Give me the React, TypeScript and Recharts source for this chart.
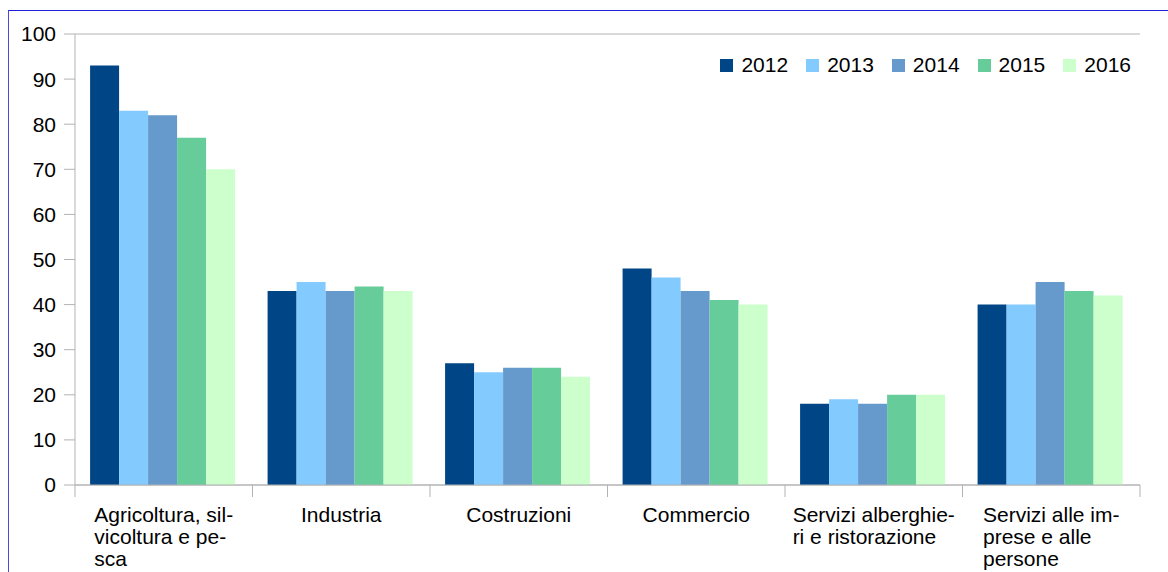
import { BarChart, Bar, XAxis, YAxis, CartesianGrid } from 'recharts'

const categories = [
    'Agricoltura, silvicoltura e pesca',
    'Industria',
    'Costruzioni',
    'Commercio',
    'Servizi alberghieri e ristorazione',
    'Servizi alle imprese e alle persone',
]

const categoryLines = [
    ['Agricoltura, sil-', 'vicoltura e pe-', 'sca'],
    ['Industria'],
    ['Costruzioni'],
    ['Commercio'],
    ['Servizi alberghie-', 'ri e ristorazione'],
    ['Servizi alle im-', 'prese e alle', 'persone'],
]

const years = ['2012', '2013', '2014', '2015', '2016']
const yearColors = ['#004586', '#83caff', '#6699cc', '#66cc99', '#ccffcc']

const values2012 = [93, 43, 27, 48, 18, 40]
const values2013 = [83, 45, 25, 46, 19, 40]
const values2014 = [82, 43, 26, 43, 18, 45]
const values2015 = [77, 44, 26, 41, 20, 43]
const values2016 = [70, 43, 24, 40, 20, 42]

const yTicks = [0, 10, 20, 30, 40, 50, 60, 70, 80, 90, 100]

const seriesValues = [values2012, values2013, values2014, values2015, values2016]

const data = categories.map((name, i) => {
    const row: Record<string, string | number> = { name, idx: i }
    years.forEach((y, s) => {
        row[y] = seriesValues[s][i]
    })
    return row
})

const FONT = "'Liberation Sans', Arial, sans-serif"
const FONT_SIZE = 21
const GRID = '#b3b3b3'

const CHART_W = 1168
const CHART_H = 572
const MARGIN = { top: 34, right: 28, left: 0, bottom: 0 }
const Y_AXIS_W = 75
const PLOT_W = CHART_W - MARGIN.left - MARGIN.right - Y_AXIS_W
const BAND = PLOT_W / categories.length

let measureCtx: CanvasRenderingContext2D | null = null
function textWidth(s: string) {
    if (!measureCtx) {
        measureCtx = document.createElement('canvas').getContext('2d')
    }
    if (!measureCtx) return s.length * FONT_SIZE * 0.5
    measureCtx.font = `${FONT_SIZE}px ${FONT}`
    return measureCtx.measureText(s).width
}

function CategoryTick(props: any) {
    const { x, y, payload, index } = props
    const lines = categoryLines[index] ?? [String(payload.value)]
    const maxW = Math.max(...lines.map(textWidth))
    const left = x - BAND / 2
    const right = x + BAND / 2
    return (
        <g>
            <line x1={left} x2={left} y1={y} y2={y + 12} stroke={GRID} strokeWidth={1} />
            {index === categories.length - 1 && (
                <line x1={right} x2={right} y1={y} y2={y + 12} stroke={GRID} strokeWidth={1} />
            )}
            <text x={x - maxW / 2} y={y + 37} fontFamily={FONT} fontSize={FONT_SIZE} fill="#000" textAnchor="start">
                {lines.map((l, i) => (
                    <tspan key={i} x={x - maxW / 2} dy={i === 0 ? 0 : 22}>
                        {l}
                    </tspan>
                ))}
            </text>
        </g>
    )
}

// legend sits inside the plot, top right, so it is drawn outside recharts' layout
function ChartLegend() {
    return (
        <div
            style={{
                position: 'absolute',
                top: 53,
                right: 37,
                display: 'flex',
                alignItems: 'center',
                fontFamily: FONT,
                fontSize: FONT_SIZE,
                color: '#000',
                lineHeight: '24px',
            }}
        >
            {years.map((y, i) => (
                <div key={y} style={{ display: 'flex', alignItems: 'center', marginLeft: i === 0 ? 0 : 18 }}>
                    <span style={{ display: 'inline-block', width: 13, height: 13, background: yearColors[i], marginRight: 8 }} />
                    <span>{y}</span>
                </div>
            ))}
        </div>
    )
}

export default function App() {
    return (
        <div style={{ position: 'relative', width: CHART_W, height: CHART_H, overflow: 'hidden', background: '#fff' }}>
            <style>{'html, body { margin: 0; padding: 0; overflow: hidden; }'}</style>
            <div
                style={{
                    position: 'absolute',
                    left: 8,
                    top: 10,
                    width: CHART_W,
                    height: CHART_H,
                    borderTop: '1px solid #2020d8',
                    borderLeft: '1px solid #4a4ae0',
                    pointerEvents: 'none',
                }}
            />
            <BarChart
                width={CHART_W}
                height={CHART_H}
                data={data}
                margin={MARGIN}
                barCategoryGap="8.5%"
                barGap={0}
            >
                <CartesianGrid vertical={false} stroke={GRID} strokeWidth={1} />
                <XAxis
                    dataKey="name"
                    interval={0}
                    height={87}
                    tickSize={0}
                    tickMargin={0}
                    tickLine={false}
                    axisLine={{ stroke: GRID }}
                    tick={<CategoryTick />}
                />
                <YAxis
                    yAxisId="left"
                    domain={[0, 100]}
                    ticks={yTicks}
                    width={Y_AXIS_W}
                    tickSize={11}
                    tickMargin={8}
                    axisLine={{ stroke: GRID }}
                    tickLine={{ stroke: GRID }}
                    tick={{ fill: '#000', fontFamily: FONT, fontSize: FONT_SIZE }}
                    interval={0}
                />
                <YAxis
                    yAxisId="right"
                    orientation="right"
                    domain={[0, 100]}
                    width={0}
                    tick={false}
                    tickLine={false}
                    axisLine={{ stroke: GRID }}
                />
                {years.map((y, s) => (
                    <Bar key={y} yAxisId="left" dataKey={y} name={y} fill={yearColors[s]} isAnimationActive={false} />
                ))}
            </BarChart>
            <ChartLegend />
        </div>
    )
}
